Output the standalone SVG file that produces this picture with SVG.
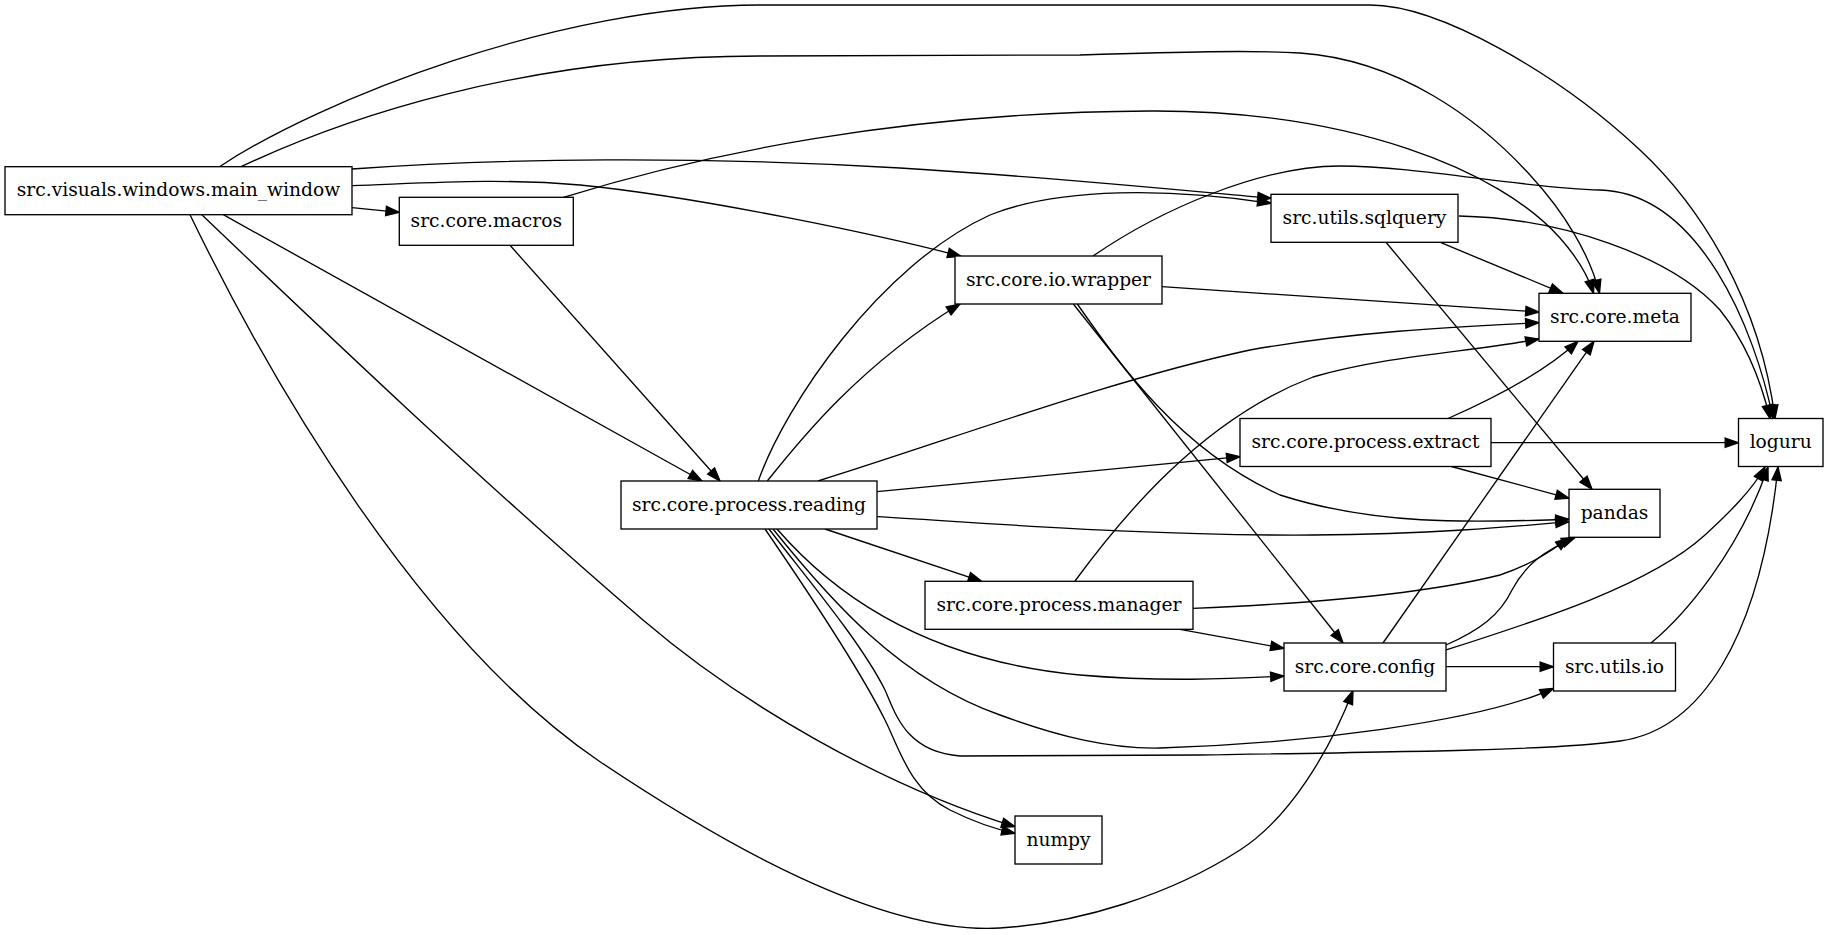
<svg xmlns="http://www.w3.org/2000/svg" width="1828" height="935" viewBox="0 0 1828 935">
<style>
.n rect{fill:#fff;stroke:#000;stroke-width:1.33}
.n text{font-family:"DejaVu Serif","Liberation Serif",serif;font-size:18.67px;text-anchor:middle;fill:#000}
#edges path{fill:none;stroke:#000;stroke-width:1.33;marker-end:url(#ah)}
</style>
<defs>
<marker id="ah" viewBox="0 0 13.33 9.33" refX="13.33" refY="4.67" markerWidth="13.33" markerHeight="9.33" markerUnits="userSpaceOnUse" orient="auto" overflow="visible">
<path d="M0,0 L13.33,4.67 L0,9.33 z" fill="#000" stroke="#000" stroke-width="1.33"/>
</marker>
</defs>
<rect width="1828" height="935" fill="#fff"/>
<g id="edges">
<path d="M219.5,166.7 C320,100 560,5 760,5 L1370,5 C1440,5 1560,75 1640,150 C1700,206 1760,300 1775,418.5"/>
<path d="M241,166.7 C340,120 520,56 760,56 L1080,55 C1180,52 1250,50 1300,53 C1400,60 1480,120 1530,175 C1565,213 1590,255 1599.5,293.3"/>
<path d="M352,169 C500,158 700,156 900,168 C1050,177 1180,190 1271,198.3"/>
<path d="M352,185.7 C430,183 500,178 580,185 C700,197 880,235 961,256.3"/>
<path d="M352,207.7 L399.3,212.3"/>
<path d="M223.3,214.7 L702,481"/>
<path d="M201.7,214.7 C330,337 480,480 643,620 C740,703 880,785 1015,826.7"/>
<path d="M190,214.7 C270,380 420,640 600,761.7 C720,842 880,935 1000,928 C1080,923 1170,895 1240,850 C1290,818 1330,750 1353,690.7"/>
<path d="M563.5,197.3 C700,155 900,112 1150,111 C1350,110 1500,170 1560,238 C1575,255 1588,275 1593.5,293.3"/>
<path d="M510,245.3 L720,481"/>
<path d="M758.3,481 C785,405 880,265 990,215 C1060,187 1170,188 1271,203.3"/>
<path d="M767.3,481 C800,440 860,365 960,304"/>
<path d="M818,481 C950,440 1110,380 1250,350 C1350,332 1450,327 1539,322.7"/>
<path d="M877,491.7 L1240,456.7"/>
<path d="M877,516.7 C1000,524 1150,536 1313,535 C1430,534 1510,527 1569,521.7"/>
<path d="M825,529 L981.7,581.3"/>
<path d="M777,529 C830,590 920,660 1080,675 C1160,682 1230,679 1284,676"/>
<path d="M773,529 C830,600 900,680 1000,715 C1060,737 1110,749 1160,748 C1300,744 1480,722 1553.5,688.3"/>
<path d="M769,529 C800,570 860,640 885,690 C895,712 905,752 960,756 L1200,755 C1400,752 1560,750 1620,741 C1700,730 1760,640 1778,467"/>
<path d="M765,529 C800,580 860,670 885,720 C900,750 910,790 950,810 C970,820 990,828 1015,833.3"/>
<path d="M1093,256 C1160,210 1260,166 1340,166 C1420,166 1520,188 1600,190 C1700,193 1755,330 1773,418.5"/>
<path d="M1162,286.7 L1539,312"/>
<path d="M1077.3,304 C1120,365 1180,450 1280,495 C1380,527 1480,522 1569,519.3"/>
<path d="M1073.3,304 L1343,643"/>
<path d="M1459,216 C1560,218 1670,255 1720,310 C1748,345 1762,385 1770,418.5"/>
<path d="M1441,242.7 L1563,293.3"/>
<path d="M1386,242.3 L1592,489.3"/>
<path d="M1448,418.5 C1490,400 1545,372 1578,341.3"/>
<path d="M1491,442.7 L1738.5,442.7"/>
<path d="M1451.3,466.5 L1569,498.3"/>
<path d="M1075,581 C1120,520 1200,420 1313,377 C1390,355 1470,352 1539,339"/>
<path d="M1193,608.3 C1300,604 1420,595 1500,575 C1530,565 1550,552 1569,538"/>
<path d="M1180,629.3 L1284,648.3"/>
<path d="M1383,643 L1594,341.3"/>
<path d="M1446,645 C1480,630 1500,615 1512,590 C1525,565 1545,550 1575,537.5"/>
<path d="M1446,650 C1540,620 1650,585 1705,535 C1730,512 1752,490 1765,467"/>
<path d="M1446,666.7 L1553.5,666.7"/>
<path d="M1651,643 C1685,615 1740,550 1768,467"/>
</g>
<g id="node-main_window" class="n"><rect x="5" y="166.7" width="347" height="48"/><text x="178.5" y="196.3">src.visuals.windows.main_window</text></g>
<g id="node-macros" class="n"><rect x="399.3" y="197.3" width="174" height="48"/><text x="486.3" y="226.9">src.core.macros</text></g>
<g id="node-reading" class="n"><rect x="621" y="481" width="256" height="48"/><text x="749" y="510.6">src.core.process.reading</text></g>
<g id="node-wrapper" class="n"><rect x="955" y="256" width="207" height="48"/><text x="1058.5" y="285.6">src.core.io.wrapper</text></g>
<g id="node-manager" class="n"><rect x="925" y="581.3" width="268" height="48"/><text x="1059" y="610.9">src.core.process.manager</text></g>
<g id="node-numpy" class="n"><rect x="1015" y="816" width="87" height="48"/><text x="1058.5" y="845.6">numpy</text></g>
<g id="node-sqlquery" class="n"><rect x="1271" y="194.3" width="187" height="48"/><text x="1364.5" y="223.9">src.utils.sqlquery</text></g>
<g id="node-extract" class="n"><rect x="1240" y="418.5" width="251" height="48"/><text x="1365.5" y="448.1">src.core.process.extract</text></g>
<g id="node-config" class="n"><rect x="1284" y="643" width="162" height="48"/><text x="1365" y="672.6">src.core.config</text></g>
<g id="node-meta" class="n"><rect x="1539" y="293.3" width="152" height="48"/><text x="1615" y="322.9">src.core.meta</text></g>
<g id="node-pandas" class="n"><rect x="1569" y="489.3" width="91" height="48"/><text x="1614.5" y="518.9">pandas</text></g>
<g id="node-utils_io" class="n"><rect x="1553.5" y="643" width="122" height="48"/><text x="1614.5" y="672.6">src.utils.io</text></g>
<g id="node-loguru" class="n"><rect x="1738.5" y="418.5" width="84.5" height="48"/><text x="1780.7" y="448.1">loguru</text></g>
</svg>
